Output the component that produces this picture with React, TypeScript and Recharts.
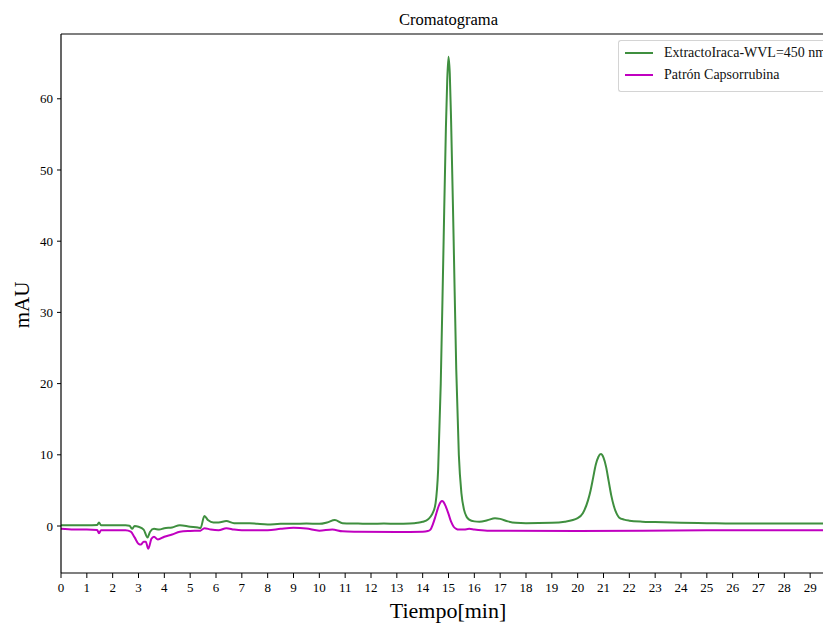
import React from 'react';
import { LineChart, Line, XAxis, YAxis, Legend, ReferenceLine } from 'recharts';

const greenTimes = [0, 0.5, 1.0, 1.4, 1.47, 1.55, 2.0, 2.5, 2.65, 2.75, 2.85, 3.0, 3.2, 3.35, 3.45, 3.6, 3.8, 4.0, 4.3, 4.6, 5.0, 5.3, 5.4, 5.55, 5.7, 5.9, 6.1, 6.4, 6.7, 7.0, 7.3, 7.6, 8.0, 8.5, 9.0, 9.5, 10.0, 10.3, 10.6, 10.9, 11.5, 12, 12.5, 13, 13.5, 13.8, 14.0, 14.2, 14.3, 14.4, 14.5, 14.6, 14.7, 14.8, 14.9, 14.95, 15.0, 15.05, 15.1, 15.2, 15.3, 15.4, 15.5, 15.6, 15.7, 15.8, 16.0, 16.2, 16.5, 16.8, 17.0, 17.3, 17.6, 18, 19, 19.5, 20, 20.2, 20.4, 20.5, 20.6, 20.7, 20.8, 20.9, 21.0, 21.1, 21.2, 21.3, 21.4, 21.5, 21.6, 21.8, 22, 22.5, 23, 24, 25, 26, 28, 30];
const greenValues = [0.1, 0.1, 0.1, 0.15, 0.5, 0.1, 0.1, 0.1, 0.05, -0.4, 0.0, -0.1, -0.5, -1.6, -0.8, -0.4, -0.5, -0.3, -0.2, 0.1, -0.1, -0.2, -0.3, 1.4, 0.8, 0.5, 0.5, 0.7, 0.4, 0.4, 0.4, 0.3, 0.2, 0.3, 0.3, 0.35, 0.3, 0.5, 0.85, 0.4, 0.35, 0.3, 0.35, 0.3, 0.35, 0.45, 0.6, 0.9, 1.3, 1.9, 3.2, 8, 20, 38, 56, 62.5, 65.9, 63.5, 57, 40, 22, 10, 4.6, 2.3, 1.3, 0.9, 0.65, 0.6, 0.8, 1.1, 1.0, 0.65, 0.45, 0.4, 0.45, 0.6, 1.1, 1.8, 3.6, 5.0, 6.8, 8.6, 9.7, 10.1, 9.6, 8.3, 6.3, 4.3, 2.8, 1.8, 1.2, 0.9, 0.75, 0.6, 0.55, 0.45, 0.4, 0.35, 0.35, 0.35];

const magentaTimes = [0, 0.5, 1.0, 1.4, 1.47, 1.55, 2.0, 2.5, 2.7, 2.85, 3.0, 3.1, 3.2, 3.28, 3.38, 3.5, 3.6, 3.75, 4.0, 4.3, 4.6, 5.0, 5.4, 5.55, 5.8, 6.1, 6.4, 6.7, 7.0, 8.0, 8.5, 9.0, 9.5, 10.0, 10.5, 10.9, 11.5, 13, 14.0, 14.2, 14.3, 14.4, 14.5, 14.6, 14.7, 14.75, 14.8, 14.9, 15.0, 15.1, 15.2, 15.3, 15.4, 15.6, 15.8, 16.0, 16.5, 20, 25, 30];
const magentaValues = [-0.4, -0.5, -0.5, -0.55, -1.0, -0.6, -0.6, -0.6, -0.8, -1.6, -2.5, -2.6, -2.2, -2.2, -3.2, -1.8, -1.5, -1.9, -1.5, -1.2, -0.8, -0.7, -0.65, -0.3, -0.5, -0.6, -0.3, -0.5, -0.6, -0.6, -0.4, -0.25, -0.35, -0.65, -0.5, -0.75, -0.8, -0.85, -0.8, -0.7, -0.5, 0.3, 1.4, 2.6, 3.4, 3.5, 3.4, 2.7, 1.7, 0.6, -0.1, -0.4, -0.5, -0.5, -0.4, -0.5, -0.65, -0.7, -0.6, -0.6];

const xTicks = [0, 1, 2, 3, 4, 5, 6, 7, 8, 9, 10, 11, 12, 13, 14, 15, 16, 17, 18, 19, 20, 21, 22, 23, 24, 25, 26, 27, 28, 29];
const yTicks = [0, 10, 20, 30, 40, 50, 60];
const yDomain = [-6.6, 69.1];

const greenName = 'ExtractoIraca-WVL=450 nm';
const magentaName = 'Patrón Capsorrubina';
const titleText = 'Cromatograma';
const xLabelText = 'Tiempo[min]';
const yLabelText = 'mAU';

const greenData = greenTimes.map((t, i) => ({ t, v: greenValues[i] }));
const magentaData = magentaTimes.map((t, i) => ({ t, v: magentaValues[i] }));

const FONT = '"Liberation Serif", "DejaVu Serif", serif';

const LegendBox = (props: any) => {
  const payload = props.payload || [];
  return (
    <div
      style={{
        borderTop: '1px solid #d4d4d4',
        borderLeft: '1px solid #d4d4d4',
        borderBottom: '1px solid #d4d4d4',
        borderTopLeftRadius: 3,
        borderBottomLeftRadius: 3,
        background: 'rgba(255,255,255,0.85)',
        width: 240,
        height: 52,
        boxSizing: 'border-box',
        paddingTop: 1,
        fontFamily: FONT,
        fontSize: 14,
        color: '#111',
      }}
    >
      {payload.map((p: any) => (
        <div key={p.value} style={{ display: 'flex', alignItems: 'center', height: 22 }}>
          <div style={{ width: 28, height: 2, background: p.color, marginLeft: 6, marginRight: 11, flexShrink: 0 }} />
          <span style={{ whiteSpace: 'nowrap' }}>{p.value}</span>
        </div>
      ))}
    </div>
  );
};

export default function App() {
  return (
    <div style={{ position: 'relative', width: 823, height: 623, overflow: 'hidden' }}>
      <style>{'body { margin: 0; }'}</style>
      <div style={{ position: 'absolute', left: 8, top: 8, width: 850, height: 615, fontFamily: FONT }}>
        <LineChart
          width={850}
          height={615}
          margin={{ top: 26, right: 22, left: 0, bottom: 0 }}
        >
          <XAxis
            type="number"
            dataKey="t"
            domain={[0, 30]}
            ticks={xTicks}
            interval={0}
            allowDataOverflow
            height={50}
            tickSize={5}
            tickMargin={5}
            axisLine={{ stroke: '#000', strokeWidth: 1.2 }}
            tickLine={{ stroke: '#000' }}
            tick={{ fill: '#000', fontSize: 13, fontFamily: FONT }}
          />
          <YAxis
            type="number"
            domain={yDomain}
            ticks={yTicks}
            allowDataOverflow
            width={53}
            tickSize={4}
            tickMargin={4}
            axisLine={{ stroke: '#000', strokeWidth: 1.2 }}
            tickLine={{ stroke: '#000' }}
            tick={{ fill: '#000', fontSize: 13, fontFamily: FONT }}
          />
          <ReferenceLine y={yDomain[1]} stroke="#000" strokeWidth={1.2} ifOverflow="visible" />
          <Legend
            layout="vertical"
            verticalAlign="middle"
            align="center"
            wrapperStyle={{ position: 'absolute', left: 610, top: 32, width: 240, height: 52 }}
            content={LegendBox}
          />
          <Line
            data={greenData}
            dataKey="v"
            name={greenName}
            type="monotone"
            stroke="#3f8f3f"
            strokeWidth={2}
            dot={false}
            isAnimationActive={false}
          />
          <Line
            data={magentaData}
            dataKey="v"
            name={magentaName}
            type="monotone"
            stroke="#c000c0"
            strokeWidth={2}
            dot={false}
            isAnimationActive={false}
          />
        </LineChart>
        <div
          style={{
            position: 'absolute',
            left: 53,
            width: 775,
            top: 2,
            textAlign: 'center',
            fontSize: 16.5,
            lineHeight: '20px',
            color: '#000',
          }}
        >
          {titleText}
        </div>
        <div
          style={{
            position: 'absolute',
            left: 440 - 100,
            width: 200,
            top: 590,
            textAlign: 'center',
            fontSize: 22,
            lineHeight: '26px',
            color: '#000',
          }}
        >
          {xLabelText}
        </div>
        <div
          style={{
            position: 'absolute',
            left: 14 - 50,
            top: 297 - 13,
            width: 100,
            height: 26,
            textAlign: 'center',
            fontSize: 21,
            lineHeight: '26px',
            color: '#000',
            transform: 'rotate(-90deg)',
          }}
        >
          {yLabelText}
        </div>
      </div>
    </div>
  );
}
